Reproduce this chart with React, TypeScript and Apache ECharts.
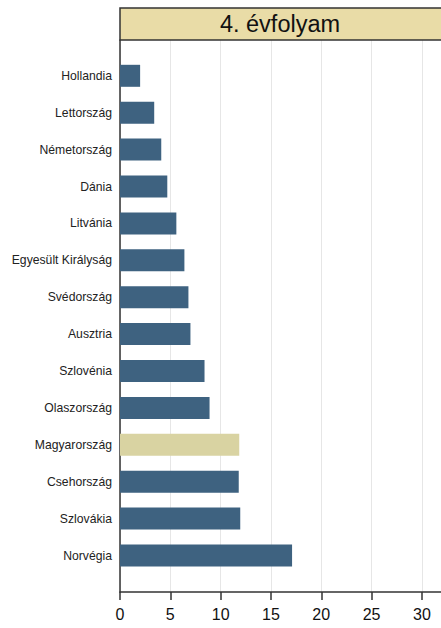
import React, { useEffect, useRef } from "react";
import * as echarts from "echarts";

const categories = [
  "Hollandia",
  "Lettország",
  "Németország",
  "Dánia",
  "Litvánia",
  "Egyesült Királyság",
  "Svédország",
  "Ausztria",
  "Szlovénia",
  "Olaszország",
  "Magyarország",
  "Csehország",
  "Szlovákia",
  "Norvégia",
];
const values = [2.0, 3.4, 4.1, 4.7, 5.6, 6.4, 6.8, 7.0, 8.4, 8.9, 11.85, 11.8, 11.95, 17.1];
const highlight = "Magyarország";
const title = "4. évfolyam";
const xMin = 0;
const xMax = 31.9;
const xInterval = 5;

const BLUE = "#3E6280";
const TAN = "#D9D3A2";

export default function App() {
  const ref = useRef<HTMLDivElement>(null);
  useEffect(() => {
    if (!ref.current) return;
    const chart = echarts.init(ref.current, undefined, { renderer: "svg" });
    const font = "Liberation Sans, Arial, sans-serif";
    chart.setOption({
      animation: false,
      textStyle: { fontFamily: font },
      grid: [
        { left: 120, right: 0, top: 40, bottom: 36 },
        { left: 120, right: 0, top: 57.35, bottom: 54.05 },
      ],
      xAxis: [
        {
          type: "value",
          gridIndex: 0,
          min: xMin,
          max: xMax,
          interval: xInterval,
          axisLine: { show: true, lineStyle: { color: "#333", width: 1.5 } },
          axisTick: { show: true, length: 8, lineStyle: { color: "#333", width: 1.5 } },
          axisLabel: {
            show: true,
            margin: 14,
            fontSize: 16,
            color: "#111",
            fontFamily: font,
            showMaxLabel: false,
          },
          splitLine: { show: true, lineStyle: { color: "#e6e6e6", width: 1 } },
        },
        {
          type: "value",
          gridIndex: 1,
          min: xMin,
          max: xMax,
          show: false,
          splitLine: { show: false },
        },
      ],
      yAxis: [
        {
          type: "value",
          gridIndex: 0,
          min: 0,
          max: 1,
          axisLine: { show: true, lineStyle: { color: "#333", width: 1.5 } },
          axisTick: { show: false },
          axisLabel: { show: false },
          splitLine: { show: false },
        },
        {
          type: "category",
          gridIndex: 1,
          data: categories,
          inverse: true,
          axisLine: { show: false },
          axisTick: { show: false },
          axisLabel: {
            show: true,
            margin: 8,
            fontSize: 12.2,
            color: "#222",
            fontFamily: font,
          },
          splitLine: { show: false },
        },
      ],
      series: [
        {
          type: "bar",
          xAxisIndex: 1,
          yAxisIndex: 1,
          barWidth: 22,
          data: values.map((v, i) => ({
            value: v,
            itemStyle: { color: categories[i] === highlight ? TAN : BLUE },
          })),
        },
      ],
      graphic: [
        {
          type: "rect",
          shape: { x: 120, y: 8, width: 340, height: 32 },
          style: { fill: "#E9DCA7", stroke: "#333", lineWidth: 1.5 },
          z: 10,
        },
        {
          type: "text",
          x: 280,
          y: 24,
          style: {
            text: title,
            fontSize: 23.5,
            fontFamily: font,
            fill: "#111",
            align: "center",
            verticalAlign: "middle",
          },
          z: 11,
        },
      ],
    });
    return () => chart.dispose();
  }, []);
  return (
    <div
      ref={ref}
      style={{ position: "fixed", left: 0, top: 0, width: 441, height: 628, background: "#fff" }}
    />
  );
}
